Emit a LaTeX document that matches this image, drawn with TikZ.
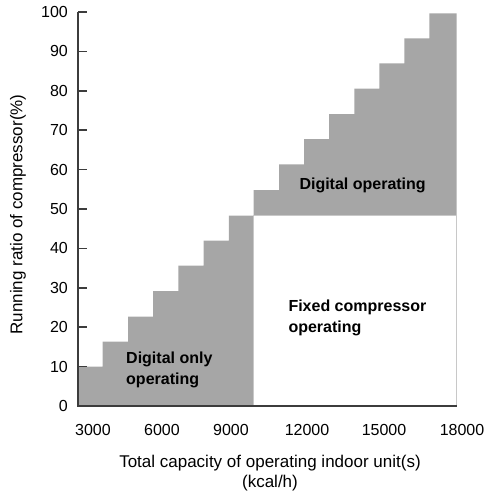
\documentclass[tikz,border=0pt]{standalone}
\usepackage{fontspec}
\setmainfont{Liberation Sans}
\definecolor{stairgray}{HTML}{A6A6A6}
\definecolor{axisgray}{HTML}{3C3C3C}
\definecolor{framegray}{HTML}{C8C8C8}

\begin{document}
\begin{tikzpicture}[
    x=1pt, y=-1pt,
    axisline/.style={draw=axisgray, line width=1.6pt},
    ticklab/.style={inner sep=0pt, font=\fontsize{16}{19}\selectfont},
    zone/.style={inner sep=0pt, align=left, font=\fontsize{16}{21}\selectfont\bfseries},
    axtitle/.style={inner sep=0pt, align=center, font=\fontsize{17}{20}\selectfont}
]
    \useasboundingbox (0,0) rectangle (486,493);
    \coordinate (O) at (78,406);
    \coordinate (top) at (78,12);
    \coordinate (end) at (457,406);
    % staircase
    \fill[stairgray] (78,406) -- (78,366.7) -- (102.7,366.7) -- (102.7,341.7)
        -- (128,341.7) -- (128,316.7) -- (153,316.7) -- (153,291.2)
        -- (178.3,291.2) -- (178.3,265.7) -- (203.5,265.7) -- (203.5,240.7)
        -- (228.8,240.7) -- (228.8,215.7) -- (253.5,215.7) -- (253.5,190)
        -- (279,190) -- (279,164.3) -- (304,164.3) -- (304,139)
        -- (329.2,139) -- (329.2,114) -- (354.3,114) -- (354.3,88.7)
        -- (379.3,88.7) -- (379.3,63.3) -- (404.3,63.3) -- (404.3,38.3)
        -- (429.3,38.3) -- (429.3,13.3) -- (456.7,13.3) -- (456.7,406) -- cycle;
    \filldraw[fill=white, draw=framegray, line width=0.8pt]
        (253.5,215.7) rectangle (456.7,406);
    % axes
    \draw[axisline] (top) -- (O) -- (end);
    \draw[axisline] (78,12) -- (87,12);
    \draw[axisline] (78,51.4) -- (87,51.4);
    \draw[axisline] (78,90.8) -- (87,90.8);
    \draw[axisline] (78,130.2) -- (87,130.2);
    \draw[axisline] (78,169.6) -- (87,169.6);
    \draw[axisline] (78,209) -- (87,209);
    \draw[axisline] (78,248.4) -- (87,248.4);
    \draw[axisline] (78,287.8) -- (87,287.8);
    \draw[axisline] (78,327.2) -- (87,327.2);
    \draw[axisline] (78,366.6) -- (87,366.6);
    % y labels
    \node[ticklab, anchor=east] (y100) at (68,12) {100};
    \node[ticklab, anchor=east] (y90) at (68,51.4) {90};
    \node[ticklab, anchor=east] (y80) at (68,90.8) {80};
    \node[ticklab, anchor=east] (y70) at (68,130.2) {70};
    \node[ticklab, anchor=east] (y60) at (68,169.6) {60};
    \node[ticklab, anchor=east] (y50) at (68,209) {50};
    \node[ticklab, anchor=east] (y40) at (68,248.4) {40};
    \node[ticklab, anchor=east] (y30) at (68,287.8) {30};
    \node[ticklab, anchor=east] (y20) at (68,327.2) {20};
    \node[ticklab, anchor=east] (y10) at (68,366.6) {10};
    \node[ticklab, anchor=east] (y0) at (68,406) {0};
    % x labels
    \node[ticklab] (x3000) at (93,429.7) {3000};
    \node[ticklab] (x6000) at (162,429.7) {6000};
    \node[ticklab] (x9000) at (231,429.7) {9000};
    \node[ticklab] (x12000) at (307,429.7) {12000};
    \node[ticklab] (x15000) at (384,429.7) {15000};
    \node[ticklab] (x18000) at (462,429.7) {18000};
    % titles
    \node[axtitle, anchor=north] (xtitle) at (270,454.6)
        {Total capacity of operating indoor unit(s)\\(kcal/h)};
    \node[axtitle, rotate=90] (ytitle) at (18,214.5) {Running ratio of compressor(\%)};
    % areas
    \node[zone, anchor=north west] (digonly) at (126,351.6) {Digital only\\operating};
    \node[zone, anchor=base west] (digop) at (299.3,189) {Digital operating};
    \node[zone, anchor=north west] (fixed) at (288.3,299.3) {Fixed compressor\\operating};
\end{tikzpicture}
\end{document}
